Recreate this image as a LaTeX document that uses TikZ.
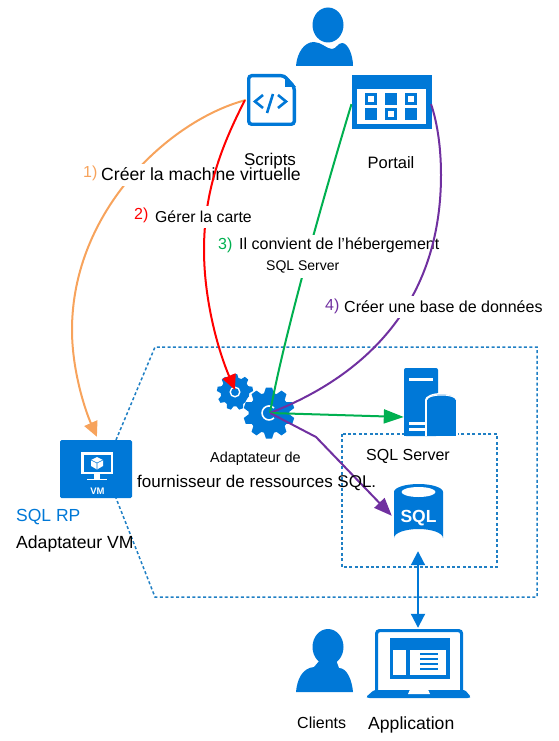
\documentclass[tikz,border=0pt]{standalone}
\usepackage{fontspec}
\setmainfont{Liberation Sans}
\usetikzlibrary{arrows.meta}
\definecolor{azure}{HTML}{0078D7}
\definecolor{dashblue}{HTML}{1F7FC4}
\definecolor{orangeln}{HTML}{F7A35C}
\definecolor{redln}{HTML}{FF0000}
\definecolor{greenln}{HTML}{00B050}
\definecolor{purpleln}{HTML}{7030A0}
\newcommand{\gearicon}[4]{% x y outer-radius teeth
  \fill[azure] (#1,#2) circle[radius=#3*0.80];
  \foreach \a in {1,...,#4}{
    \fill[azure,rotate around={\a*360/#4:(#1,#2)}]
      ([xshift=-#3*0.22,yshift=#3*0.7]#1,#2) -- ([xshift=-#3*0.12,yshift=#3]#1,#2)
      -- ([xshift=#3*0.12,yshift=#3]#1,#2) -- ([xshift=#3*0.22,yshift=#3*0.7]#1,#2) -- cycle;
  }
}
\newcommand{\personicon}[2]{% head centre x y
  \fill[azure] (#1,#2) ellipse[x radius=15.5,y radius=17.5];
  \fill[azure] (#1-32,#2+41) .. controls (#1-31,#2+28) and (#1-24,#2+17) .. (#1-14,#2+17)
    .. controls (#1-7,#2+17) and (#1-1,#2+24) .. (#1+4,#2+24)
    .. controls (#1+8,#2+24) and (#1+10,#2+18) .. (#1+14,#2+18)
    .. controls (#1+20,#2+18) and (#1+25,#2+30) .. (#1+25,#2+41) -- cycle;
}
\tikzset{
  lbl/.style={inner sep=0pt,anchor=west,fill=white,minimum height=22pt,text=black},
  lblc/.style={inner sep=0pt,anchor=center,text=black},
  num/.style={inner sep=0pt,anchor=west,font=\fontsize{16}{16}\selectfont},
  dashbox/.style={draw=dashblue,line width=1.5pt,dash pattern=on 3pt off 2.4pt},
  conn/.style={line width=2pt},
  anchorpt/.style={inner sep=0pt,minimum size=0pt},
}
\begin{document}
\begin{tikzpicture}[x=1pt,y=-1pt]
\useasboundingbox (0,0) rectangle (559,741);
% dashed regions
\draw[dashbox] (116,440) -- (155,347) -- (537,347) -- (537,597) -- (155,597) -- (116,498);
\draw[dashbox] (342,434) rectangle (497,567);
% top person
\personicon{328}{25}
% scripts icon
\draw[azure,line width=3.4pt,rounded corners=3pt,fill=white] (248.7,75.7) -- (284,75.7) -- (294.3,87) -- (294.3,124.3) -- (248.7,124.3) -- cycle;
\fill[azure] (285,75) -- (296,87) -- (285,87) -- cycle;
\draw[azure,line width=2.6pt] (263,95) -- (255,101.5) -- (263,108);
\draw[azure,line width=2.6pt] (278,95) -- (286,101.5) -- (278,108);
\draw[azure,line width=2.6pt] (273,94) -- (267,113);
% portal icon
\fill[azure] (352,75) rectangle (432,129);
\fill[white] (357,89) rectangle (426,124);
\foreach \cx/\cy in {365/93,385/93,405/93,365/108,385/108,405/108}{
  \fill[azure] (\cx,\cy) rectangle (\cx+12.3,\cy+12.3);
}
\foreach \cx/\cy in {365/93,405/93,385/108}{
  \fill[white] (\cx+3,\cy+3) rectangle (\cx+9.3,\cy+9.3);
}
% VM
\fill[azure,rounded corners=1.5pt] (60,440) rectangle (132,498);
\fill[white] (81,452) rectangle (113,474);
\fill[azure] (83.5,454.5) rectangle (110.5,471.5);
\fill[white] (87,478.5) rectangle (107,480);
\fill[white] (94,474) rectangle (100,479);
\fill[white] (97,457) -- (103,460) -- (103,466) -- (97,469.5) -- (91,466) -- (91,460) -- cycle;
\draw[azure,line width=0.6pt] (91,460) -- (97,463) -- (103,460) (97,463) -- (97,469.5);
\node[inner sep=0pt,text=white,font=\bfseries\fontsize{9.5}{9.5}\selectfont] (vmtxt) at (97.5,491) {VM};
% gears
\gearicon{235}{392}{18}{9}
\draw[white,line width=1.4pt] (235,392) circle[radius=4.8];
\fill[white] (269,413) circle[radius=26];
\gearicon{269}{413}{25.5}{10}
\draw[white,line width=1.6pt] (274,408) arc[start angle=-45,end angle=-315,radius=7];
% server
\fill[azure,rounded corners=2pt] (404,368) rectangle (438,436);
\fill[azure] (404,420) rectangle (438,436);
\fill[white] (409,378) rectangle (433,381);
\fill[white] (409,422) rectangle (427,425);
\fill[white] (409,428) rectangle (427,431);
\fill[white] (425,400) rectangle (458,436);
\fill[white] (441.5,400) ellipse[x radius=16.5,y radius=7];
\fill[azure] (427,400) rectangle (456,436);
\fill[azure] (441.5,400) ellipse[x radius=14.5,y radius=5.5];
\draw[white,line width=1pt] (427,399.5) arc[start angle=180,end angle=360,x radius=14.5,y radius=4.5];
% database
\fill[azure] (394,492) -- (394,538) arc[start angle=180,end angle=360,x radius=24.5,y radius=9] -- (443,492) -- cycle;
\fill[azure] (418.5,492) ellipse[x radius=24.5,y radius=8];
\fill[white] (418.5,492) ellipse[x radius=17,y radius=5];
\node[inner sep=0pt,text=white,font=\bfseries\fontsize{17.5}{17.5}\selectfont] (sqltxt) at (418.5,518) {SQL};
% clients person
\fill[azure] (328,647) ellipse[x radius=15.5,y radius=18];
\fill[azure] (296,692) .. controls (297,680) and (302,668) .. (314,667) -- (320,660) -- (336,660) -- (339,668)
  .. controls (347,668) and (352,680) .. (353,692) -- cycle;
% laptop
\draw[azure,line width=3.2pt,rounded corners=3pt] (376.6,691) -- (376.6,630.6) -- (461.6,630.6) -- (461.6,691);
\fill[azure] (390,638) rectangle (450,679);
\fill[white] (393,650) rectangle (406,675);
\fill[white] (410,650) rectangle (446,675);
\foreach \yy in {653,658,663,668}{\fill[azure] (420,\yy) rectangle (438,\yy+2.4);}
\fill[azure,rounded corners=1.5pt] (374,690) -- (465,690) -- (471,697) -- (469,698) -- (368,698) -- (366,697) -- cycle;
\fill[white] (410,689.5) -- (428,689.5) -- (430,694) -- (408,694) -- cycle;
% anchor nodes
\node[anchorpt] (scriptsA) at (246,100) {};
\node[anchorpt] (scriptsB) at (245,100) {};
\node[anchorpt] (portalA) at (351.5,104) {};
\node[anchorpt] (portalB) at (431,104) {};
\node[anchorpt] (vmN) at (97,437) {};
\node[anchorpt] (gearS) at (235,390) {};
\node[anchorpt] (gearL) at (270,413) {};
\node[anchorpt] (serverW) at (404,417) {};
\node[anchorpt] (dbW) at (392,516) {};
\node[anchorpt] (dbS) at (418,551) {};
\node[anchorpt] (lapN) at (418,628) {};
\coordinate (bend) at (316,437);
\coordinate (orangeW) at (72,330);
\coordinate (redW) at (204,250);
\coordinate (purpleE) at (441,175);
% connectors and the labels that interrupt them
\draw[conn,orangeln,-{Triangle[length=15pt,width=14pt]}] (scriptsA) .. controls (170,120) and (72,210) .. (orangeW) .. controls (72,370) and (85,410) .. (vmN);
\node[lbl,font=\fontsize{17.6}{17.6}\selectfont] (l1) at (101,174.5) {Créer la machine virtuelle};
\draw[conn,redln,-{Triangle[length=15pt,width=14pt]}] (scriptsB) .. controls (222,145) and (204,190) .. (redW) .. controls (204,300) and (218,350) .. (gearS);
\node[lbl,font=\fontsize{15.8}{15.8}\selectfont] (l2) at (155,216.5) {Gérer la carte};
\draw[conn,greenln] (portalA) .. controls (330,175) and (285,330) .. (gearL);
\node[lbl,font=\fontsize{16}{16}\selectfont] (l3) at (239,245.5) {Il convient de l’hébergement};
\node[lbl,font=\fontsize{14}{14}\selectfont] (l3b) at (266,267) {SQL Server};
\draw[conn,purpleln] (portalB) .. controls (438,125) and (441,150) .. (purpleE) .. controls (441,290) and (380,370) .. (gearL);
\node[lbl,font=\fontsize{16}{16}\selectfont] (l4) at (344,307) {Créer une base de données};
\draw[conn,greenln,-{Triangle[length=20pt,width=14pt]}] (gearL) -- (serverW);
\draw[conn,purpleln,-{Triangle[length=18pt,width=14pt]}] (gearL) -- (bend) -- (dbW);
\draw[conn,azure,{Triangle[length=14pt,width=14pt]}-{Triangle[length=14pt,width=14pt]}] (dbS) -- (lapN);
% labels
\node[lblc,font=\fontsize{17}{17}\selectfont] (t1) at (270,161.5) {Scripts};
\node[lblc,font=\fontsize{16.5}{16.5}\selectfont] (t2) at (391,163) {Portail};
\node[num,text=orangeln] (n1) at (83,173) {1)};
\node[num,text=redln] (n2) at (134,215.5) {2)};
\node[num,text=greenln] (n3) at (218,245.5) {3)};
\node[num,text=purpleln] (n4) at (325,306.5) {4)};
\node[lblc,anchor=west,font=\fontsize{14.4}{14.4}\selectfont] (a1) at (210,458.5) {Adaptateur de};
\node[lblc,anchor=west,font=\fontsize{17}{17}\selectfont] (a2) at (137,482.5) {fournisseur de ressources SQL.};
\node[lblc,anchor=west,font=\fontsize{16}{16}\selectfont] (s1) at (366,456) {SQL Server};
\node[lblc,anchor=west,text=azure,font=\fontsize{17.5}{17.5}\selectfont] (rp) at (16,517.5) {SQL RP};
\node[lblc,anchor=west,font=\fontsize{17.6}{17.6}\selectfont] (av) at (16,543.5) {Adaptateur VM};
\node[lblc,anchor=west,font=\fontsize{16}{16}\selectfont] (c1) at (297,723) {Clients};
\node[lblc,anchor=west,font=\fontsize{17.6}{17.6}\selectfont] (c2) at (368,724.5) {Application};
\end{tikzpicture}
\end{document}
